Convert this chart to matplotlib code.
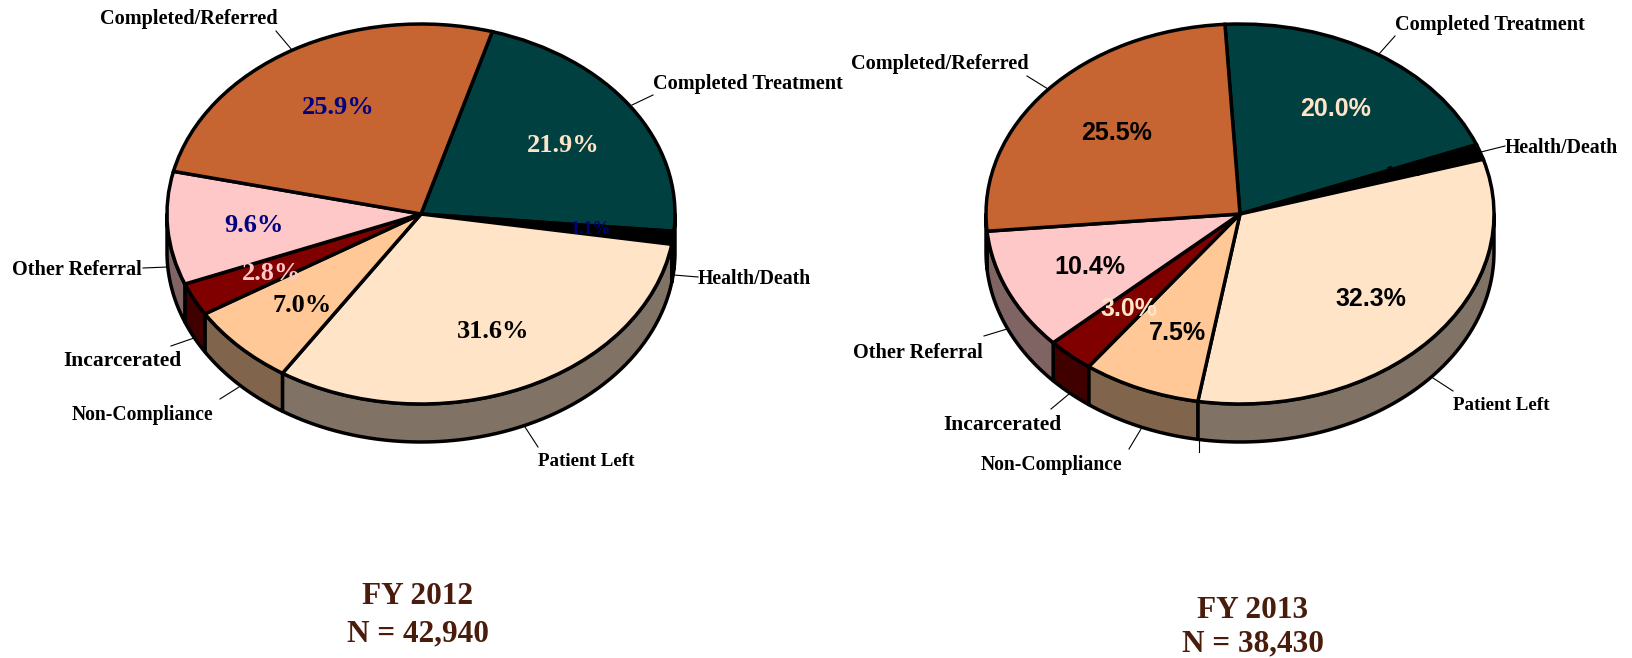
"""
FY 2012 / FY 2013 discharge reason pies, drawn with a fake 3D wall
"""
import numpy as np

import matplotlib
matplotlib.use('Agg')
import matplotlib.pyplot as plt
from matplotlib.colors import to_rgb
from matplotlib.patches import Polygon

plt.rcParams['font.family'] = ['Liberation Serif', 'DejaVu Serif']

W, H = 1632, 658

# data
categories = ["Completed Treatment", "Health/Death", "Patient Left", "Non-Compliance",
              "Incarcerated", "Other Referral", "Completed/Referred"]
values_2012 = [21.9, 1.1, 31.6, 7.0, 2.8, 9.6, 25.9]
values_2013 = [20.0, 1.3, 32.3, 7.5, 3.0, 10.4, 25.5]
titles_2012 = ["FY 2012", "N = 42,940"]
titles_2013 = ["FY 2013", "N = 38,430"]

# 配色
slice_colors = ["#004040", "#000000", "#FFE4C8", "#FFC896", "#800000", "#FFC8C8", "#C66432"]
NAVY = "#000080"
CREAM = "#FFE4C8"
PINK = "#FFC8C8"
TITLE_COLOR = "#4A1C0C"

RX, RY, DEPTH = 254, 190, 0.2
EDGE = 2.5

# the source text is letter-spaced unevenly, so sizes differ a little per label
label_sizes = [14.6, 14.2, 13.7, 14.1, 15.5, 14.6, 14.6]

# label position (left x), y centre, leader line (x0, y0, x1, y1)
layout_2012 = [
    (653, 84, (653, 95, 632, 105)),
    (698, 279, (698, 277, 674, 275)),
    (538, 462, (538, 447, 525, 427)),
    (72, 415, (220, 399, 239, 387)),
    (63, 361, (171, 346, 194, 338)),
    (12, 270, (143, 268, 168, 267)),
    (100, 19, (276, 31, 292, 50)),
]
layout_2013 = [
    (1395, 25, (1395, 36, 1379, 54)),
    (1505, 148, (1505, 146, 1481, 152)),
    (1453, 406, (1453, 391, 1433, 378)),
    (981, 465, (1129, 449, 1141, 429)),
    (943, 425, (1051, 409, 1069, 394)),
    (853, 353, (984, 336, 1007, 329)),
    (851, 64, (1027, 76, 1048, 89)),
]

# percent label centres and colours
pct_2012 = [(563, 145, CREAM), (591, 230, NAVY), (493, 332, 'black'), (302, 305, 'black'),
            (272, 274, PINK), (254, 226, NAVY), (338, 108, NAVY)]
pct_2013 = [(1336, 109, CREAM), (1403, 172, 'black'), (1371, 299, 'black'), (1177, 333, 'black'),
            (1129, 309, CREAM), (1090, 267, 'black'), (1117, 133, 'black')]


def draw_pie(fig, cx, cy, values, startangle):
    """椭圆饼 + 下方侧壁"""
    ax = fig.add_axes([(cx - 1.1 * RX) / W, 1 - (cy + 1.4 * RY) / H, 2.2 * RX / W, 2.5 * RY / H])
    ax.pie(values, colors=slice_colors, startangle=startangle, counterclock=False, radius=1,
           wedgeprops=dict(edgecolor='black', linewidth=EDGE, zorder=3))
    ax.set_aspect('auto')
    ax.set_xlim(-1.1, 1.1)
    ax.set_ylim(-1.4, 1.1)

    # wall only shows for the lower half of the ellipse
    ends = startangle - np.cumsum(values) / np.sum(values) * 360
    starts = np.r_[startangle, ends[:-1]]
    for a0, a1, color in zip(starts, ends, slice_colors):
        for shift in (0, -360):
            lo = max(a1 - shift - 360, -180)
            hi = min(a0 - shift - 360, 0)
            if hi <= lo:
                continue
            t = np.radians(np.linspace(lo, hi, 60))
            top = np.c_[np.cos(t), np.sin(t)]
            bottom = np.c_[np.cos(t), np.sin(t) - DEPTH][::-1]
            shade = tuple(c * 0.5 for c in to_rgb(color))
            ax.add_patch(Polygon(np.r_[top, bottom], closed=True, facecolor=shade,
                                 edgecolor='black', linewidth=EDGE, zorder=1, joinstyle='round'))
    return ax


fig = plt.figure(figsize=(W / 100, H / 100), dpi=100)
draw_pie(fig, 421, 214, values_2012, 73.7)
draw_pie(fig, 1240, 214, values_2013, 93.4)

# overlay in pixel coordinates for labels
ov = fig.add_axes([0, 0, 1, 1], facecolor='none', zorder=5)
ov.set_xlim(0, W)
ov.set_ylim(H, 0)
ov.axis('off')

for values, layout, pct, pct_font, pct_size, small_size in [
        (values_2012, layout_2012, pct_2012, 'Liberation Serif', 19, 13),
        (values_2013, layout_2013, pct_2013, 'Liberation Sans', 18, 11)]:
    for name, size, (x, y, line), v, (px, py, c) in zip(categories, label_sizes, layout, values, pct):
        ov.text(x, y, name, ha='left', va='center', fontsize=size, fontweight='bold', color='black')
        ov.plot([line[0], line[2]], [line[1], line[3]], color='black', lw=0.8)
        # Health/Death 的百分比字号更小
        ov.text(px, py, f"{v:.1f}%", ha='center', va='center',
                fontsize=small_size if v < 2 else pct_size,
                fontweight='bold', color=c, family=pct_font)

# stray tick under the FY 2013 wall
ov.plot([1199, 1199], [440, 452], color='black', lw=0.8)

for (x, y0, y1), title in [((418, 597, 634), titles_2012), ((1253, 611, 644), titles_2013)]:
    ov.text(x, y0, title[0], ha='center', va='center', fontsize=22.5, fontweight='bold', color=TITLE_COLOR)
    ov.text(x, y1, title[1], ha='center', va='center', fontsize=22.5, fontweight='bold', color=TITLE_COLOR)

fig.savefig('out.png', dpi=100)
plt.close(fig)
